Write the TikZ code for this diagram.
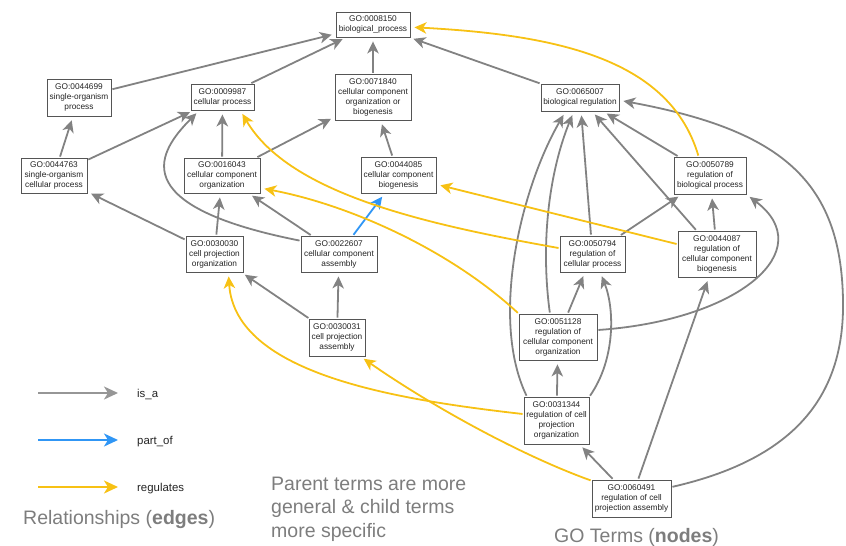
\documentclass[tikz,border=0pt]{standalone}
\usepackage{fontspec}
\setmainfont{Liberation Sans}
\usetikzlibrary{arrows.meta}

\definecolor{edgegray}{RGB}{130,130,130}
\definecolor{legendgray}{RGB}{150,150,150}
\definecolor{reggold}{RGB}{247,193,20}
\definecolor{partblue}{RGB}{48,150,245}
\definecolor{boxline}{RGB}{85,85,85}
\definecolor{termtext}{RGB}{35,35,35}
\definecolor{captiongray}{RGB}{125,125,125}

\tikzset{
  term/.style={draw=boxline, line width=0.9pt, text=termtext, align=center,
    inner sep=0pt, font=\fontsize{8.3}{10}\selectfont},
  rel/.style={line width=1.8pt, shorten >=4pt, shorten <=1pt,
    -{Stealth[length=12pt,width=11.5pt,inset=3.5pt]}},
  isa/.style={rel, draw=edgegray},
  partof/.style={rel, draw=partblue},
  reg/.style={rel, draw=reggold},
  keyline/.style={line width=1.8pt, -{Stealth[length=14pt,width=13pt,inset=4pt]}},
  keylabel/.style={anchor=base west, inner sep=0pt, text=termtext,
    font=\fontsize{11.4}{13}\selectfont},
  caption/.style={anchor=base west, inner sep=0pt, text=captiongray,
    font=\fontsize{19.5}{23.5}\selectfont},
}

\begin{document}
\begin{tikzpicture}[x=1pt, y=-1pt]
\useasboundingbox (0,0) rectangle (846,546);

% GO terms
\node[term, minimum width=74pt, minimum height=25pt] (n8150)  at (373,24.5)  {GO:0008150\\biological\_process};
\node[term, minimum width=64pt, minimum height=37pt] (n44699) at (79,97.5)   {GO:0044699\\single-organism\\process};
\node[term, minimum width=63pt, minimum height=26pt] (n9987)  at (222.5,97)  {GO:0009987\\cellular process};
\node[term, minimum width=76pt, minimum height=46pt] (n71840) at (373,97)    {GO:0071840\\cellular component\\organization or\\biogenesis};
\node[term, minimum width=78pt, minimum height=27pt] (n65007) at (580,97.5)  {GO:0065007\\biological regulation};
\node[term, minimum width=66pt, minimum height=35pt] (n44763) at (54,175.5)  {GO:0044763\\single-organism\\cellular process};
\node[term, minimum width=76pt, minimum height=35pt] (n16043) at (222,175.5) {GO:0016043\\cellular component\\organization};
\node[term, minimum width=75pt, minimum height=36pt] (n44085) at (398.5,175) {GO:0044085\\cellular component\\biogenesis};
\node[term, minimum width=72pt, minimum height=37pt] (n50789) at (710,175.5) {GO:0050789\\regulation of\\biological process};
\node[term, minimum width=57pt, minimum height=36pt] (n30030) at (214.5,254) {GO:0030030\\cell projection\\organization};
\node[term, minimum width=76pt, minimum height=36pt] (n22607) at (339,254)   {GO:0022607\\cellular component\\assembly};
\node[term, minimum width=65pt, minimum height=36pt] (n50794) at (592.5,254) {GO:0050794\\regulation of\\cellular process};
\node[term, minimum width=78pt, minimum height=46pt] (n44087) at (717,254)   {GO:0044087\\regulation of\\cellular component\\biogenesis};
\node[term, minimum width=56pt, minimum height=37pt] (n30031) at (337,337.5) {GO:0030031\\cell projection\\assembly};
\node[term, minimum width=78pt, minimum height=46pt] (n51128) at (558,337)   {GO:0051128\\regulation of\\cellular component\\organization};
\node[term, minimum width=65pt, minimum height=47pt] (n31344) at (556.5,420.5) {GO:0031344\\regulation of cell\\projection\\organization};
\node[term, minimum width=79pt, minimum height=37pt] (n60491) at (631.5,498.5) {GO:0060491\\regulation of cell\\projection assembly};

% is_a relations
\draw[isa] (n44699) -- (n8150);
\draw[isa] (n9987) -- (n8150);
\draw[isa] (n71840) -- (n8150);
\draw[isa] (n65007) -- (n8150);
\draw[isa] (n44763) -- (n44699);
\draw[isa] (n44763) -- (n9987);
\draw[isa] (n16043) -- (n9987);
\draw[isa] (n16043) -- (n71840);
\draw[isa] (n44085) -- (n71840);
\draw[isa] (n22607.161) .. controls (120,205) and (160,150) .. (n9987.210);
\draw[isa] (n30030) -- (n44763);
\draw[isa] (n30030) -- (n16043);
\draw[isa] (n22607) -- (n16043);
\draw[isa] (n30031) -- (n30030);
\draw[isa] (n30031) -- (n22607);
\draw[isa] (n50789) -- (n65007);
\draw[isa] (n44087) -- (n65007);
\draw[isa] (n50794) -- (n65007);
\draw[isa] (n51128.109) .. controls (540,240) and (550,170) .. (n65007.246);
\draw[isa] (n31344.141) .. controls (490,320) and (520,190) .. (n65007.224);
\draw[isa] (n51128) -- (n50794);
\draw[isa] (n31344.36) .. controls (615,360) and (615,310) .. (n50794.293);
\draw[isa] (n31344) -- (n51128);
\draw[isa] (n51128.10) .. controls (740,320) and (820,250) .. (n50789.south east);
\draw[isa] (n50794) -- (n50789);
\draw[isa] (n44087) -- (n50789);
\draw[isa] (n60491) -- (n31344);
\draw[isa] (n60491) -- (n44087);
\draw[isa] (n60491.16) .. controls (790,460) and (845,400) .. (843,300)
                       .. controls (841,180) and (780,130) .. (n65007.356);

% part_of relation
\draw[partof] (n22607) -- (n44085);

% regulates relations
\draw[reg] (n50789.121) .. controls (670,60) and (560,35) .. (n8150.356);
\draw[reg] (n50794.170) .. controls (430,225) and (290,195) .. (n9987.323);
\draw[reg] (n51128.north west) .. controls (450,250) and (350,205) .. (n16043.342);
\draw[reg] (n44087) -- (n44085);
\draw[reg] (n31344.169) .. controls (400,400) and (235,375) .. (n30030.307);
\draw[reg] (n60491.156) .. controls (520,455) and (430,405) .. (n30031.321);

% key
\coordinate (isaFrom) at (38,393);   \coordinate (isaTo) at (118,393);
\coordinate (partFrom) at (38,440);  \coordinate (partTo) at (118,440);
\coordinate (regFrom) at (38,487);   \coordinate (regTo) at (118,487);
\draw[keyline, draw=legendgray] (isaFrom) -- (isaTo);
\draw[keyline, draw=partblue] (partFrom) -- (partTo);
\draw[keyline, draw=reggold] (regFrom) -- (regTo);
\node[keylabel] (isaText) at (137,397) {is\_a};
\node[keylabel] (partText) at (137,444) {part\_of};
\node[keylabel] (regText) at (137,491) {regulates};

% captions
\node[caption] (edgeCaption) at (23,524) {Relationships (\textbf{edges})};
\node[caption] (noteLineA) at (271,490) {Parent terms are more};
\node[caption] (noteLineB) at (271,513.5) {general \& child terms};
\node[caption] (noteLineC) at (271,537) {more specific};
\node[caption] (nodeCaption) at (554,542) {GO Terms (\textbf{nodes})};
\end{tikzpicture}
\end{document}
